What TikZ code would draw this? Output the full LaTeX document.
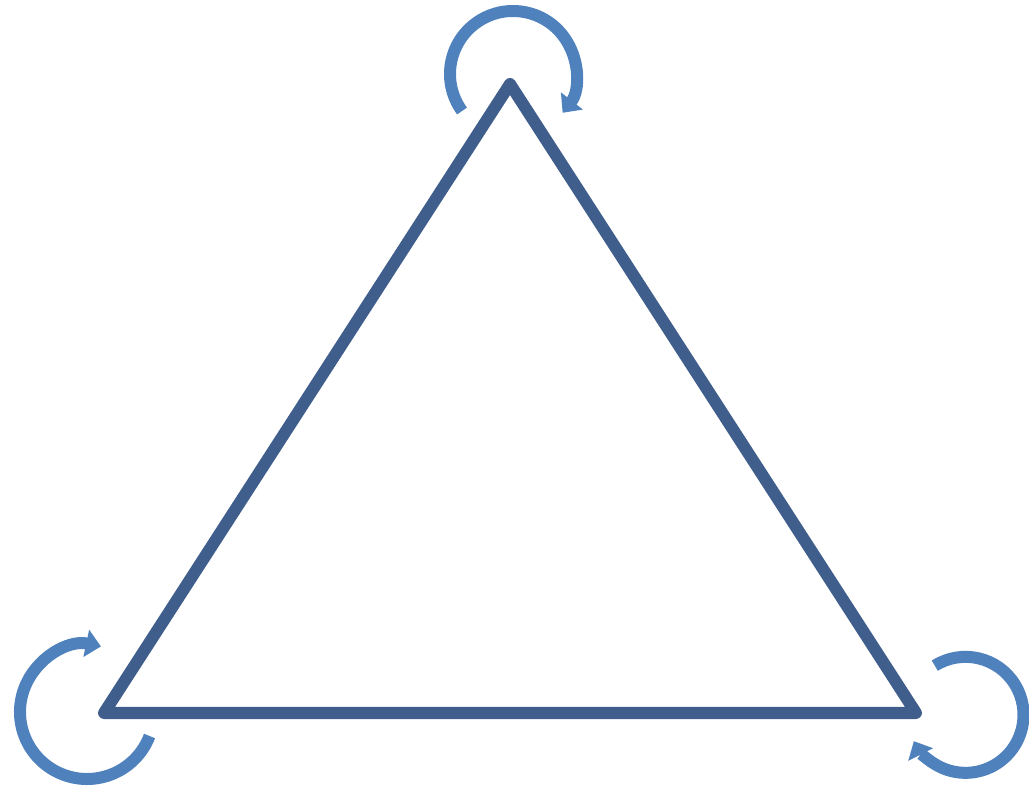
\documentclass[tikz,border=0pt]{standalone}
\usetikzlibrary{arrows.meta}
\definecolor{tri}{HTML}{3F5E8C}
\definecolor{arr}{HTML}{4F81BD}
\begin{document}
\begin{tikzpicture}[x=1pt,y=1pt,
  edge/.style={draw=tri,line width=12pt,line join=round},
  loop/.style={draw=arr,line width=12pt,-{Triangle[width=27pt,length=15pt]}}]
\useasboundingbox (0,0) rectangle (1029,788);
\coordinate (T) at (510,704);
\coordinate (L) at (104,75);
\coordinate (R) at (916,75);
\draw[edge] (T) -- (L) -- (R) -- cycle;
% loop arrows
\coordinate (cT) at (513,714);
\coordinate (cL) at (87,76);
\coordinate (cR) at (965,74);
\draw[loop] (cT) ++(216:63) arc[start angle=216,end angle=-38,radius=63];
\draw[loop] (cL) ++(-21:67) arc[start angle=-21,end angle=-282,radius=67];
\draw[loop] (cR) ++(122:57) arc[start angle=122,end angle=-153,radius=58];
\end{tikzpicture}
\end{document}
